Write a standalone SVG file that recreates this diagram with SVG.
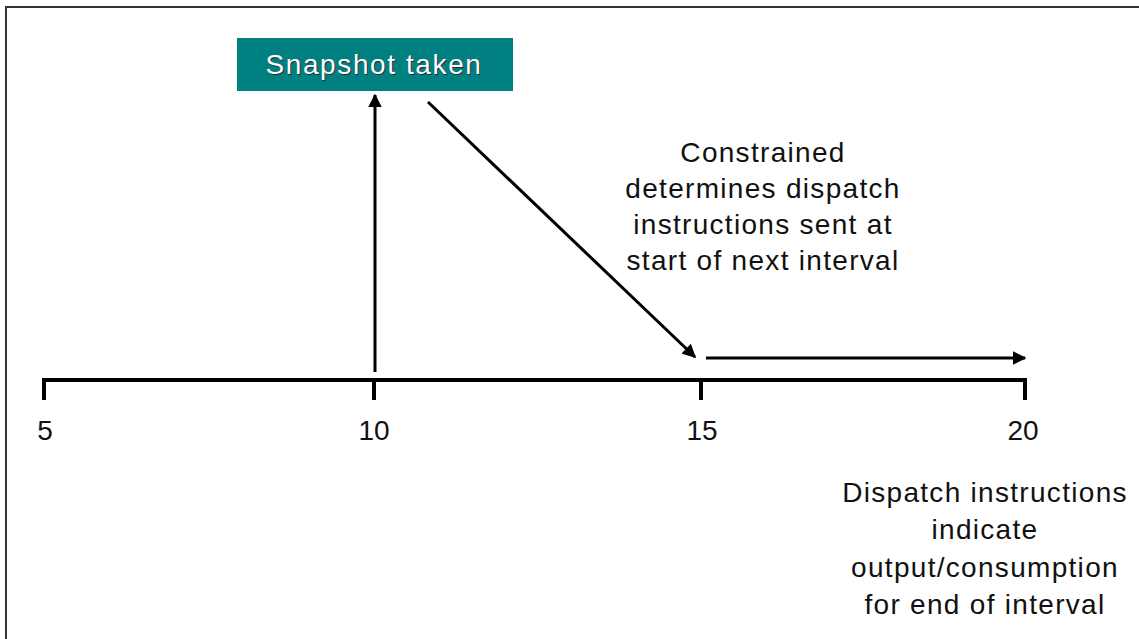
<svg xmlns="http://www.w3.org/2000/svg" width="1139" height="639" viewBox="0 0 1139 639">
<defs>
<style>
.t{font-family:"Liberation Sans",Arial,sans-serif;font-size:28px;fill:#111;text-anchor:middle;letter-spacing:1.3px}
.n{font-family:"Liberation Sans",Arial,sans-serif;font-size:28px;fill:#111;text-anchor:middle}
.ax{stroke:#000;stroke-width:4;fill:none}
.ar{stroke:#000;stroke-width:3;fill:none}
</style>
<marker id="ah" viewBox="0 0 10 10" refX="9" refY="5" markerWidth="4.5" markerHeight="4.5" orient="auto" markerUnits="strokeWidth">
<path d="M0,0 L10,5 L0,10 Z" fill="#000"/>
</marker>
</defs>
<rect x="0" y="0" width="1139" height="639" fill="#fff"/>
<path d="M6,640 L6,7 L1140,7" stroke="#333" stroke-width="2" fill="none"/>
<g id="axis">
<path class="ax" d="M44,400 L44,380 L1025,380 L1025,400"/>
<path class="ax" d="M374,380 L374,400"/>
<path class="ax" d="M701,380 L701,400"/>
<text class="n" x="45" y="440">5</text>
<text class="n" x="374" y="440">10</text>
<text class="n" x="702" y="440">15</text>
<text class="n" x="1023" y="440">20</text>
</g>
<g id="snapshot">
<rect x="237" y="38" width="276" height="53" fill="#008080"/>
<text class="t" x="375" y="75" style="fill:#2a2a2a;letter-spacing:1.6px">Snapshot taken</text>
<text class="t" x="374" y="74" style="fill:#fff;letter-spacing:1.6px">Snapshot taken</text>
</g>
<g id="constrained">
<text class="t" x="763" y="162">Constrained</text>
<text class="t" x="763" y="198">determines dispatch</text>
<text class="t" x="763" y="234">instructions sent at</text>
<text class="t" x="763" y="270">start of next interval</text>
</g>
<g id="dispatch">
<text class="t" x="985" y="502">Dispatch instructions</text>
<text class="t" x="985" y="539">indicate</text>
<text class="t" x="985" y="577">output/consumption</text>
<text class="t" x="985" y="614">for end of interval</text>
</g>
<g id="connectors">
<path class="ar" d="M375,372 L375,95" marker-end="url(#ah)"/>
<path class="ar" d="M428,102 L695,357" marker-end="url(#ah)"/>
<path class="ar" d="M706,358 L1025,358" marker-end="url(#ah)"/>
</g>
</svg>
